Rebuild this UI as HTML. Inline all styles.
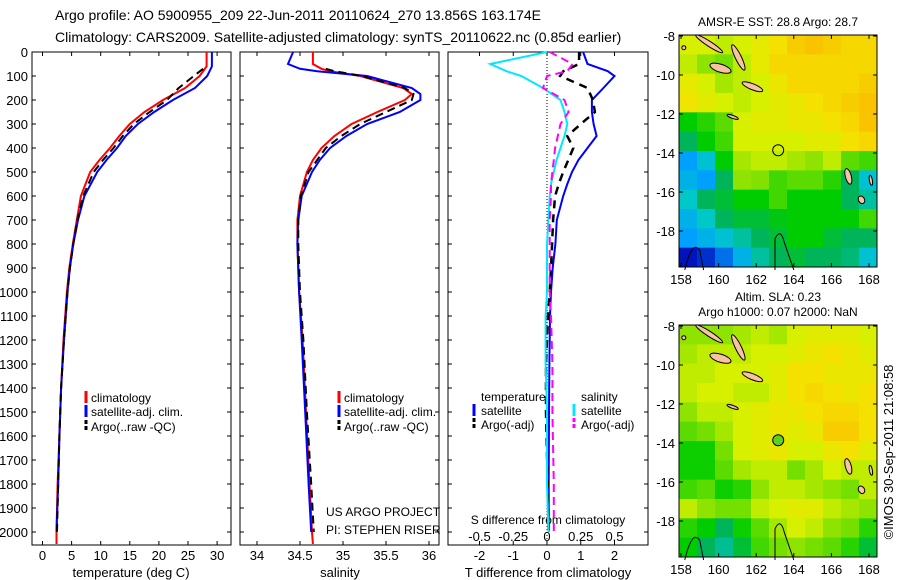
<!DOCTYPE html>
<html><head><meta charset="utf-8"><style>
body{margin:0;background:#fff;}
svg{display:block;font-family:"Liberation Sans",sans-serif;}
</style></head><body>
<svg id="c" width="900" height="580" viewBox="0 0 900 580"></svg>
<script>
// ---------- data ----------
const depthsT = [0,60,100,150,200,250,300,350,400,450,500,600,700,800,900,1000,1200,1400,1600,1800,2000,2050];
const tempClim = [28.2,28.2,27,24.5,20.7,17.5,15,13.2,11.6,9.8,8.2,6.6,5.9,5.2,4.6,4.2,3.6,3.2,2.9,2.6,2.4,2.4];
const tempSat  = [29.1,29.1,28.3,26.2,22.4,19.2,16.4,14.3,12.8,11,9.4,7.2,6.1,5.3,4.7,4.3,3.7,3.2,2.9,2.7,2.4,2.4];
const depthsArgo = [70,100,150,200,250,300,350,400,450,500,600,700,800,900,1000,1200,1400,1600,1800,2000];
const tempArgo = [27.6,26.0,23.4,21.4,18.4,15.7,13.8,12.2,10.4,8.8,7.0,6.0,5.3,4.7,4.3,3.7,3.2,2.9,2.7,2.5];

const depthsS = [0,50,70,80,100,150,175,200,250,300,350,400,450,500,600,700,800,1000,1200,1500,1800,2000,2050];
const salClim = [34.65,34.65,34.75,34.85,35.2,35.7,35.8,35.72,35.4,35.1,34.9,34.75,34.65,34.58,34.5,34.47,34.47,34.49,34.53,34.57,34.61,34.64,34.65];
const salSat  = [34.42,34.36,34.5,34.7,35.28,35.8,35.9,35.9,35.66,35.28,35.04,34.85,34.73,34.64,34.52,34.48,34.47,34.49,34.52,34.56,34.6,34.63,34.63];
const salArgo = [34.65,34.66,34.8,34.9,35.22,35.72,35.82,35.8,35.5,35.2,34.98,34.8,34.7,34.6,34.51,34.48,34.48,34.5,34.54,34.58,34.63,34.66,34.66];

const depthsD = [0,50,80,100,150,200,250,300,350,400,450,500,550,600,700,800,900,1000,1100,1300,1500,1800,2000];
const tDiffSat  = [1.07,1.2,1.8,2.0,1.67,1.33,1.33,1.38,1.47,1.2,0.93,0.74,0.6,0.48,0.29,0.25,0.17,0.12,0.09,0.07,0.06,0.05,0.05];
const tDiffArgo = [0.95,0.95,0.48,0.39,1.2,1.36,1.42,1.0,0.6,0.78,0.63,0.48,0.35,0.24,0.18,0.15,0.12,0.08,0.03,-0.03,-0.03,0.02,0.05];
const sDiffSat  = [0.0,-0.42,-0.3,-0.19,-0.03,0.1,0.13,0.15,0.13,0.1,0.07,0.05,0.03,0.02,0.01,0.0,0.0,0.0,-0.01,-0.01,0.0,0.0,0.01];
const sDiffArgo = [0.02,0.19,0.15,0.0,-0.03,0.13,0.16,0.1,0.08,0.06,0.05,0.04,0.03,0.03,0.02,0.02,0.02,0.02,0.03,0.04,0.04,0.05,0.05];

const depthTicks = [0,100,200,300,400,500,600,700,800,900,1000,1100,1200,1300,1400,1500,1600,1700,1800,1900,2000];
const tempTicks = [0,5,10,15,20,25,30];
const salTicks = [34,34.5,35,35.5,36];
const tDiffTicks = [-2,-1,0,1,2];
const sDiffTicks = [-0.5,-0.25,0,0.25,0.5];
const lonTicks = [158,160,162,164,166,168];
const latTicks = [-8,-10,-12,-14,-16,-18];

const sstGrid = [
[0.72,0.72,0.7,0.72,0.75,0.78,0.82,0.84,0.82,0.8,0.8],
[0.7,0.66,0.64,0.7,0.75,0.8,0.8,0.8,0.8,0.8,0.8],
[0.75,0.72,0.68,0.7,0.72,0.76,0.8,0.8,0.8,0.8,0.82],
[0.77,0.74,0.72,0.7,0.72,0.74,0.76,0.78,0.8,0.82,0.84],
[0.55,0.58,0.62,0.72,0.74,0.74,0.76,0.76,0.78,0.8,0.84],
[0.5,0.55,0.6,0.72,0.72,0.72,0.72,0.74,0.74,0.78,0.8],
[0.3,0.4,0.55,0.68,0.7,0.7,0.68,0.66,0.7,0.62,0.6],
[0.35,0.3,0.5,0.66,0.65,0.6,0.62,0.62,0.58,0.5,0.4],
[0.42,0.5,0.52,0.55,0.55,0.6,0.55,0.55,0.55,0.5,0.45],
[0.35,0.42,0.5,0.52,0.52,0.54,0.55,0.55,0.55,0.55,0.6],
[0.3,0.35,0.4,0.45,0.5,0.52,0.55,0.55,0.52,0.5,0.5],
[0.15,0.18,0.25,0.35,0.45,0.5,0.52,0.5,0.5,0.48,0.4]];
const slaGrid = [
[0.66,0.66,0.66,0.68,0.7,0.68,0.72,0.74,0.74,0.74,0.72],
[0.68,0.7,0.7,0.7,0.72,0.72,0.74,0.76,0.78,0.76,0.74],
[0.7,0.7,0.72,0.72,0.72,0.74,0.78,0.78,0.76,0.76,0.76],
[0.7,0.72,0.72,0.7,0.7,0.74,0.78,0.8,0.78,0.76,0.78],
[0.66,0.7,0.7,0.72,0.74,0.76,0.76,0.78,0.8,0.8,0.78],
[0.62,0.64,0.68,0.72,0.74,0.76,0.74,0.76,0.82,0.82,0.78],
[0.56,0.56,0.64,0.72,0.74,0.76,0.72,0.72,0.76,0.78,0.74],
[0.56,0.56,0.62,0.68,0.7,0.7,0.64,0.68,0.72,0.7,0.7],
[0.6,0.62,0.56,0.58,0.66,0.7,0.7,0.68,0.66,0.64,0.7],
[0.7,0.66,0.64,0.64,0.7,0.72,0.74,0.74,0.7,0.68,0.66],
[0.58,0.55,0.5,0.56,0.62,0.68,0.72,0.7,0.66,0.64,0.58],
[0.55,0.5,0.46,0.52,0.6,0.64,0.66,0.64,0.62,0.58,0.52]];

// ---------- helpers ----------
const NS="http://www.w3.org/2000/svg";
const svg=document.getElementById('c');
function el(tag,attrs,parent){const e=document.createElementNS(NS,tag);for(const k in attrs)e.setAttribute(k,attrs[k]);(parent||svg).appendChild(e);return e;}
function txt(x,y,s,anchor,size,parent){const t=el('text',{x:x,y:y,'font-size':size||13,'text-anchor':anchor||'start',fill:'#000'},parent);t.textContent=s;return t;}

const yD = d => 52 + d*0.24;
const PT = {x0:32,x1:231}, PS={x0:240,x1:439}, PD={x0:448,x1:648};
const BOT=545, TOP=52;
const xT = v => 42.5 + v*5.82;
const xS = v => 257 + (v-34)*86;
const xTD = v => 547 + v*33.75;
const xSD = v => 547 + v*135;

function frame(p,name){
  const g=el('g',{});
  
  
  el('rect',{x:p.x0,y:TOP,width:p.x1-p.x0,height:BOT-TOP,fill:'none',stroke:'#000','stroke-width':1},g);
  return g;
}
function line(xs,ds,fx,color,w,dash,name){
  const pts=xs.map((v,i)=>fx(v).toFixed(1)+','+yD(ds[i]).toFixed(1)).join(' ');
  const p=el('polyline',{points:pts,fill:'none',stroke:color,'stroke-width':w,'stroke-dasharray':dash||'none'});
  
  
}
function depthTicksFor(p,labels,g){
  depthTicks.forEach(d=>{
    el('line',{x1:p.x0,x2:p.x0+4,y1:yD(d),y2:yD(d),stroke:'#000'},g);
    el('line',{x1:p.x1,x2:p.x1-4,y1:yD(d),y2:yD(d),stroke:'#000'},g);
    if(labels){const t=txt(p.x0-4,yD(d)+5,String(d),'end',13,g);
      
      }
  });
}
function xTicks(p,ticks,fx,g,ylab){
  ticks.forEach(v=>{
    el('line',{x1:fx(v),x2:fx(v),y1:BOT,y2:BOT-4,stroke:'#000'},g);
    el('line',{x1:fx(v),x2:fx(v),y1:TOP,y2:TOP+4,stroke:'#000'},g);
    if(ylab){const t=txt(fx(v),ylab,String(v),'middle',13,g);
      
      }
  });
}
function legMark(x,y,color,dash,g){el('line',{x1:x,x2:x,y1:y-11,y2:y+1,stroke:color,'stroke-width':3,'stroke-dasharray':dash||'none'},g);}

// ---------- titles ----------
const t1=txt(55,20,'Argo profile: AO 5900955_209 22-Jun-2011 20110624_270 13.856S 163.174E','start',14);


const t2=txt(55,42,'Climatology: CARS2009. Satellite-adjusted climatology: synTS_20110622.nc (0.85d earlier)','start',14);



// ---------- panel 1 temperature ----------
const g1=frame(PT,'temperature-panel');
depthTicksFor(PT,true,g1);
xTicks(PT,tempTicks,xT,g1,560);
const xa1=txt(131,577,'temperature (deg C)','middle',13);


line(tempClim,depthsT,xT,'#ff0000',2,null,'temp-climatology-line');
line(tempSat,depthsT.slice(0,21),xT,'#0000ff',2,null,'temp-satellite-line');
line(tempArgo,depthsArgo,xT,'#000',2,'8,5','temp-argo-line');
const l1=el('g',{});


legMark(86,402,'#ff0000',null,l1);txt(91,402,'climatology','start',12,l1);
legMark(86,416,'#0000ff',null,l1);txt(91,416,'satellite-adj. clim.','start',12,l1);
legMark(86,431,'#000','4,2',l1);txt(91,431,'Argo(..raw -QC)','start',12,l1);

// ---------- panel 2 salinity ----------
const g2=frame(PS,'salinity-panel');
depthTicksFor(PS,false,g2);
xTicks(PS,salTicks,xS,g2,560);
const xa2=txt(340,577,'salinity','middle',13);


line(salClim,depthsS,xS,'#ff0000',2,null,'sal-climatology-line');
line(salSat.slice(0,22),depthsS.slice(0,22),xS,'#0000ff',2,null,'sal-satellite-line');
line(salArgo.slice(2,22),depthsS.slice(2,22),xS,'#000',2,'8,5','sal-argo-line');
const l2=el('g',{});


legMark(339,402,'#ff0000',null,l2);txt(344,402,'climatology','start',12,l2);
legMark(339,416,'#0000ff',null,l2);txt(344,416,'satellite-adj. clim.','start',12,l2);
legMark(339,431,'#000','4,2',l2);txt(344,431,'Argo(..raw -QC)','start',12,l2);
const pr1=txt(326,516,'US ARGO PROJECT','start',12);


const pr2=txt(326,534,'PI: STEPHEN RISER','start',12);



// ---------- panel 3 differences ----------
const g3=frame(PD,'difference-panel');
depthTicksFor(PD,false,g3);
xTicks(PD,tDiffTicks,xTD,g3,560);
sDiffTicks.forEach(v=>{const t=txt(xSD(v),541,String(v),'middle',13,g3);
  
  });
el('line',{x1:xTD(0),x2:xTD(0),y1:TOP,y2:BOT,stroke:'#000','stroke-dasharray':'1,2'},g3);
const sa=txt(548,524,'S difference from climatology','middle',12);


const ta=txt(548,577,'T difference from climatology','middle',13);


line(tDiffSat,depthsD,xTD,'#0000ff',2,null,'t-diff-satellite-line');
line(tDiffArgo,depthsD,xTD,'#000',2.5,'8,6','t-diff-argo-line');
line(sDiffSat,depthsD,xSD,'#00e8ff',2,null,'s-diff-satellite-line');
line(sDiffArgo,depthsD,xSD,'#ff00ff',2,'8,5','s-diff-argo-line');
const l3=el('g',{});


txt(481,401,'temperature','start',12,l3);txt(581,401,'salinity','start',12,l3);
legMark(474,415,'#0000ff',null,l3);txt(481,415,'satellite','start',12,l3);
legMark(474,429,'#000','4,2',l3);txt(481,429,'Argo(-adj)','start',12,l3);
legMark(574,415,'#00e8ff',null,l3);txt(581,415,'satellite','start',12,l3);
legMark(574,429,'#ff00ff','4,2',l3);txt(581,429,'Argo(-adj)','start',12,l3);

// ---------- maps ----------
const stops=[[0,[0,0,130]],[0.15,[0,20,190]],[0.3,[0,160,255]],[0.42,[0,200,200]],[0.5,[0,180,90]],[0.55,[0,205,0]],[0.65,[130,225,0]],[0.72,[215,240,0]],[0.78,[245,225,0]],[0.85,[250,190,0]],[1,[250,140,0]]];
function cmap(v){for(let i=1;i<stops.length;i++){if(v<=stops[i][0]){const a=stops[i-1],b=stops[i];const f=(v-a[0])/(b[0]-a[0]);
  const c=a[1].map((x,k)=>Math.round(x+(b[1][k]-x)*f));return 'rgb('+c.join(',')+')';}}return 'rgb(250,140,0)';}
const MX0=679,MX1=877,MH=232;
const xLon = lon => 681 + (lon-158)*18.8;
function drawMap(grid,top,name,markerFill){
  const g=el('g',{});
  
  
  const yLat = lat => top+1 + (-8-lat)*19.5;
  const rows=grid.length, cols=grid[0].length, cw=(MX1-MX0)/cols, ch=MH/rows;
  grid.forEach((row,r)=>row.forEach((v,c)=>{
    el('rect',{x:MX0+c*cw,y:top+r*ch,width:cw+0.5,height:ch+0.5,fill:cmap(v)},g);
  }));
  const isl=[[159.5,-8.4,16,2.5,33],[161.05,-9.1,14,3,64],[160.1,-9.65,11,4,18],[161.8,-10.6,11,3,22],[160.75,-12.15,6,1.5,20],[166.9,-15.2,8,3,75],[167.6,-16.4,4,3,60],[168.1,-15.4,5,1.5,80],[158.15,-8.6,2,2,0]];
  isl.forEach(s=>{const cx=xLon(s[0]),cy=yLat(s[1]);
    el('ellipse',{cx:cx,cy:cy,rx:s[2],ry:s[3],transform:'rotate('+s[4]+' '+cx+' '+cy+')',fill:'#f7c3a0',stroke:'#000','stroke-width':1},g);});
  el('path',{d:'M'+xLon(163)+','+yLat(-20)+' L'+xLon(163)+','+yLat(-18.4)+' Q'+xLon(163.3)+','+yLat(-17.8)+' '+xLon(163.5)+','+yLat(-18.6)+' L'+xLon(164)+','+yLat(-20),fill:'none',stroke:'#000'},g);
  el('path',{d:'M'+xLon(158.2)+','+yLat(-20)+' Q'+xLon(158.6)+','+yLat(-18.4)+' '+xLon(159)+','+yLat(-19)+' L'+xLon(159.2)+','+yLat(-20),fill:'none',stroke:'#000'},g);
  const mk=el('circle',{cx:xLon(163.17),cy:yLat(-13.86),r:5.5,fill:markerFill,stroke:'#000','stroke-width':1});
  
  
  el('rect',{x:MX0,y:top,width:MX1-MX0,height:MH,fill:'none',stroke:'#000'},g);
  lonTicks.forEach(l=>{el('line',{x1:xLon(l),x2:xLon(l),y1:top+MH,y2:top+MH-4,stroke:'#000'},g);
    el('line',{x1:xLon(l),x2:xLon(l),y1:top,y2:top+4,stroke:'#000'},g);
    txt(xLon(l),top+MH+17,String(l),'middle',13,g);});
  latTicks.forEach(l=>{el('line',{x1:MX0,x2:MX0+4,y1:yLat(l),y2:yLat(l),stroke:'#000'},g);
    el('line',{x1:MX1,x2:MX1-4,y1:yLat(l),y2:yLat(l),stroke:'#000'},g);
    txt(MX0-4,yLat(l)+5,String(l),'end',13,g);});
}
drawMap(sstGrid,35,'sst-map','none');
drawMap(slaGrid,325,'sla-map','#60d020');
const mt1=txt(778,26,'AMSR-E SST: 28.8 Argo: 28.7','middle',12);


const mt2=txt(778,301,'Altim. SLA: 0.23','middle',12);


const mt3=txt(778,316,'Argo h1000: 0.07 h2000: NaN','middle',12);


const ts=txt(0,0,'©IMOS 30-Sep-2011 21:08:58','middle',13);
ts.setAttribute('transform','translate(893,452) rotate(-90)');


</script>
</body></html>
